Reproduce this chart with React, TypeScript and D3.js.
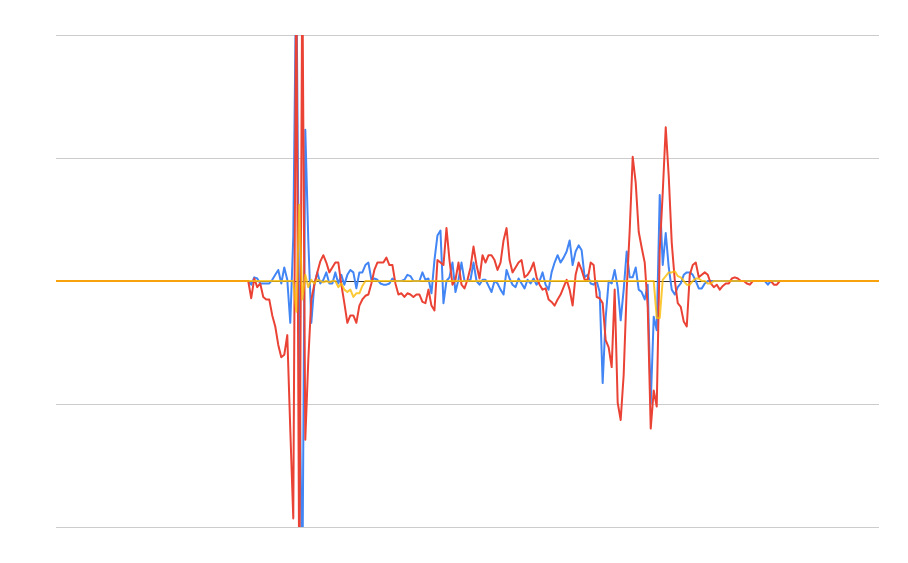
import React from "react";
import * as d3 from "d3";

const WIDTH = 908;
const HEIGHT = 563;

// sample index domain and value ticks (gridlines)
const SAMPLE_COUNT = 274;
const START = 65;
const yTicks = [-2, -1, 0, 1, 2];

const blueValues = [
  -0.03, 0.03, 0.02, -0.02, -0.02, -0.02, -0.02, 0.01, 0.05, 0.09,
  -0.02, 0.11, 0.01, -0.34, 0.36, 2.6, -0.5, -2.6, 1.23, 0.33,
  -0.34, -0.03, 0.07, -0.02, 0.01, 0.07, -0.02, -0.02, 0.07, -0.02,
  0.05, -0.03, 0.05, 0.09, 0.07, -0.06, 0.07, 0.07, 0.13, 0.15,
  0.01, 0.02, 0.01, -0.02, -0.03, -0.03, -0.02, 0.02, 0, 0,
  0, 0.01, 0.05, 0.04, 0, 0, 0, 0.07, 0.01, 0.02,
  -0.1, 0.17, 0.37, 0.41, -0.18, 0, 0.03, 0.15, -0.09, 0.01,
  0.15, 0, 0, 0.01, 0.15, 0, -0.03, 0.01, 0.01, -0.04,
  -0.09, 0, -0.02, -0.07, -0.11, 0.09, 0.02, -0.03, -0.05, 0.02,
  -0.02, -0.06, 0.01, -0.02, 0.02, -0.03, 0, 0.07, -0.03, -0.07,
  0.07, 0.15, 0.21, 0.15, 0.19, 0.24, 0.33, 0.13, 0.24, 0.29,
  0.25, 0.03, 0.05, -0.02, -0.03, 0, -0.09, -0.83, -0.3, 0,
  -0.02, 0.09, -0.05, -0.32, -0.07, 0.24, 0.03, 0.03, 0.11, -0.07,
  -0.09, -0.15, -0.03, -1.0, -0.29, -0.4, 0.7, 0.13, 0.39, 0.11,
  -0.07, -0.11, -0.05, -0.02, 0.05, 0.07, 0.07, 0.05, 0, -0.06,
  -0.06, -0.02, 0, 0, 0, 0, 0, 0, 0, 0,
  0, 0, 0, 0, 0, 0, 0, 0, 0, 0,
  0, 0, -0.03, 0, 0, 0,
];

const redValues = [
  -0.14, 0.02, -0.05, -0.02, -0.13, -0.15, -0.15, -0.28, -0.37, -0.52,
  -0.62, -0.6, -0.44, -1.21, -1.93, 2.6, -2.6, 2.6, -1.29, -0.64,
  -0.15, -0.03, 0.07, 0.16, 0.21, 0.15, 0.07, 0.11, 0.15, 0.15,
  -0.03, -0.18, -0.34, -0.28, -0.28, -0.34, -0.2, -0.15, -0.12, -0.11,
  -0.02, 0.09, 0.15, 0.15, 0.15, 0.19, 0.13, 0.13, -0.02, -0.11,
  -0.1, -0.13, -0.1, -0.11, -0.13, -0.11, -0.11, -0.17, -0.18, -0.07,
  -0.2, -0.24, 0.17, 0.15, 0.13, 0.43, 0.17, -0.03, 0.01, 0.15,
  -0.03, -0.06, 0.01, 0.11, 0.28, 0.13, 0.02, 0.21, 0.15, 0.21,
  0.21, 0.17, 0.09, 0.15, 0.33, 0.43, 0.17, 0.07, 0.11, 0.15,
  0.17, 0.03, 0.05, 0.09, 0.15, 0.03, -0.03, -0.07, -0.06, -0.15,
  -0.17, -0.2, -0.15, -0.11, -0.05, 0.01, -0.07, -0.2, 0.05, 0.15,
  0.09, 0.01, 0.01, 0.15, 0.13, -0.13, -0.14, -0.18, -0.48, -0.54,
  -0.7, -0.07, -0.99, -1.13, -0.76, -0.07, 0.41, 1.01, 0.8, 0.4,
  0.27, 0.15, -0.21, -1.2, -0.89, -1.02, 0.25, 0.72, 1.25, 0.85,
  0.31, 0.01, -0.18, -0.21, -0.33, -0.37, 0.05, 0.13, 0.15, 0.03,
  0.05, 0.07, 0.05, -0.02, -0.05, -0.03, -0.07, -0.04, -0.02, -0.02,
  0.02, 0.03, 0.02, 0, 0, -0.02, -0.03, 0, 0, 0,
  0, 0, 0, 0, -0.03, -0.03, 0, 0, 0, 0,
];

const yellowValues = [
  0, 0, 0, 0, 0, 0, 0, 0, 0, 0,
  0, 0, 0, 0, 0, -0.25, 0.62, -0.15, 0.05, -0.05,
  0.01, -0.02, 0.01, 0, -0.01, 0, -0.01, 0, 0, -0.05,
  -0.02, -0.07, -0.09, -0.07, -0.13, -0.1, -0.1, -0.04, 0, 0,
  0, 0, 0, 0, 0, 0, 0, 0, 0, 0,
  0, 0, 0, 0, 0, 0, 0, 0, 0, 0,
  0, 0, 0, 0, 0, 0, 0, 0, 0, 0,
  0, 0, 0, 0, 0, 0, 0, 0, 0, 0,
  0, 0, 0, 0, 0, 0, 0, 0, 0, 0,
  0, 0, 0, 0, 0, 0, 0, 0, 0, 0,
  0, 0, 0, 0, 0, 0, 0, 0, 0, 0,
  0, 0, 0, 0, 0, 0, 0, 0, 0, 0,
  0, 0, 0, 0, 0, 0, 0, 0, 0, 0,
  0, 0, 0, 0, 0, -0.3, -0.3, 0.01, 0.04, 0.07,
  0.07, 0.08, 0.04, 0.03, 0, -0.03, -0.03, 0, 0.02, 0.02,
  0, 0, -0.02, -0.02, 0, 0,
];

const seriesList = [
  { name: "A", values: blueValues, color: "#4285F4", opacity: 1 },
  { name: "B", values: redValues, color: "#EA4335", opacity: 1 },
  { name: "C", values: yellowValues, color: "#FBBC04", opacity: 0.8 },
];

const margin = { left: 56, right: 29, top: 35, bottom: 36 };

export default function App() {
  const x = d3
    .scaleLinear()
    .domain([0, SAMPLE_COUNT])
    .range([margin.left, WIDTH - margin.right]);
  const y = d3
    .scaleLinear()
    .domain([-2, 2])
    .range([HEIGHT - margin.bottom, margin.top]);

  const line = d3
    .line<[number, number]>()
    .x((d) => x(d[0]))
    .y((d) => y(d[1]));

  // series are flat at zero before START and after their last reading
  const toPoints = (vals: number[]): [number, number][] => {
    const pts: [number, number][] = [
      [0, 0],
      [START - 1, 0],
    ];
    vals.forEach((v, i) => pts.push([START + i, v]));
    pts.push([START + vals.length, 0]);
    pts.push([SAMPLE_COUNT, 0]);
    return pts;
  };

  return (
    <svg
      width={WIDTH}
      height={HEIGHT}
      style={{ position: "absolute", left: 0, top: 0, background: "#fff" }}
    >
      <defs>
        <clipPath id="plot">
          <rect
            x={margin.left}
            y={margin.top}
            width={WIDTH - margin.left - margin.right}
            height={HEIGHT - margin.top - margin.bottom}
          />
        </clipPath>
      </defs>
      {yTicks
        .filter((t) => t !== 0)
        .map((t) => (
          <line
            key={t}
            x1={margin.left}
            x2={WIDTH - margin.right}
            y1={Math.round(y(t)) + 0.5}
            y2={Math.round(y(t)) + 0.5}
            stroke="#cccccc"
            strokeWidth={1}
          />
        ))}
      <line
        x1={margin.left}
        x2={WIDTH - margin.right}
        y1={Math.round(y(0)) + 0.5}
        y2={Math.round(y(0)) + 0.5}
        stroke="#333333"
        strokeWidth={1}
      />
      <g clipPath="url(#plot)">
        {seriesList.map((s) => (
          <path
            key={s.name}
            d={line(toPoints(s.values)) || ""}
            fill="none"
            stroke={s.color}
            strokeOpacity={s.opacity}
            strokeWidth={2}
            strokeLinejoin="round"
          />
        ))}
      </g>
    </svg>
  );
}
